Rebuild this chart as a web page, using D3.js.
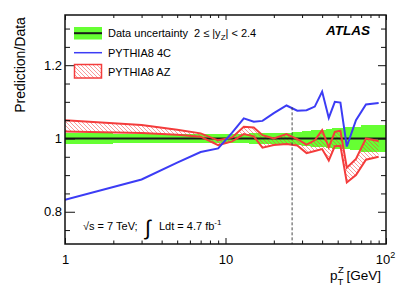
<!DOCTYPE html>
<html><head><meta charset="utf-8">
<script src="https://cdn.jsdelivr.net/npm/d3@7"></script>
<style>
body{margin:0;background:#fff;}
text{font-family:"Liberation Sans",Arial,sans-serif;}
</style></head>
<body><svg id="c" width="407" height="292"></svg>
<script>
// ---- data ----
const binEdges = [0,2,4,6,8,10,12,14,16,18,22,26,30,34,38,42,46,50,54,60,70,80,100];
const dataUnc  = [0.016,0.011,0.011,0.011,0.012,0.013,0.013,0.014,0.014,0.014,0.015,0.018,0.020,0.022,0.024,0.026,0.028,0.029,0.030,0.032,0.036,0.036];
const ptCenters = [1,3,5,7,9,11,13,15,17,20,24,28,32,36,40,44,48,52,57,65,75,90];
const pythia4C = [0.833,0.888,0.934,0.963,0.973,1.016,1.055,1.046,1.048,1.069,1.090,1.076,1.077,1.087,1.128,1.056,1.100,1.098,0.978,1.050,1.093,1.097];
const azUpper  = [1.050,1.037,1.024,1.014,0.995,1.003,1.032,1.030,1.009,1.000,1.012,0.998,0.983,0.995,1.023,0.976,1.018,1.021,0.920,0.944,1.000,0.993];
const azLower  = [1.019,1.015,1.010,1.005,0.982,0.992,1.012,1.006,0.975,0.982,0.985,0.981,0.960,0.966,0.971,0.940,0.979,0.980,0.880,0.900,0.942,0.950];
const yMajor = [0.8,1,1.2];
const yMinor = [0.75,0.85,0.9,0.95,1.05,1.1,1.15,1.25,1.3];
const xMajor = [1,10,100];
const xMinor = [2,3,4,5,6,7,8,9,20,30,40,50,60,70,80,90];
const cutPt = 26;

// ---- layout ----
const L=65,R=386,T=15,B=244;
const svg=d3.select("#c");
const x=d3.scaleLog().domain([1,100]).range([L,R]);
const y=d3.scaleLinear().domain([0.712,1.337]).range([B,T]);
const GREEN="#66ff33", BLUE="#3c3cf5", RED="#f43c3c";

const defs=svg.append("defs");
defs.append("clipPath").attr("id","clip").append("rect").attr("x",L).attr("y",T).attr("width",R-L).attr("height",B-T);
const pat=defs.append("pattern").attr("id","hatch").attr("patternUnits","userSpaceOnUse").attr("width",4).attr("height",4);
pat.append("path").attr("d","M-1,-1 L5,5 M-1,3 L1,5 M3,-1 L5,1").attr("stroke",RED).attr("stroke-width",0.8).attr("stroke-opacity",0.65);

const g=svg.append("g").attr("clip-path","url(#clip)");

// data uncertainty band (steps)
g.selectAll("rect.unc").data(dataUnc).enter().append("rect")
 .attr("x",(d,i)=>x(Math.max(binEdges[i],0.5)))
 .attr("width",(d,i)=>x(binEdges[i+1])-x(Math.max(binEdges[i],0.5)))
 .attr("y",d=>y(1+d)).attr("height",d=>y(1-d)-y(1+d))
 .attr("fill",GREEN).attr("shape-rendering","crispEdges");

// AZ band
const idx=d3.range(ptCenters.length);
g.append("path").datum(idx)
 .attr("d",d3.area().x(i=>x(ptCenters[i])).y0(i=>y(azLower[i])).y1(i=>y(azUpper[i])))
 .attr("fill","url(#hatch)");

// black line at 1
g.append("line").attr("x1",L).attr("x2",R).attr("y1",y(1)).attr("y2",y(1)).attr("stroke","#1a1a1a").attr("stroke-width",2);

const line=arr=>d3.line().x(i=>x(ptCenters[i])).y(i=>y(arr[i]));
g.append("path").datum(idx).attr("d",line(azUpper)).attr("fill","none").attr("stroke",RED).attr("stroke-width",2);
g.append("path").datum(idx).attr("d",line(azLower)).attr("fill","none").attr("stroke",RED).attr("stroke-width",2);
g.append("path").datum(idx).attr("d",line(pythia4C)).attr("fill","none").attr("stroke",BLUE).attr("stroke-width",2);

// dashed cut line
svg.append("line").attr("x1",x(cutPt)).attr("x2",x(cutPt)).attr("y1",y(1.085)).attr("y2",B)
 .attr("stroke","#333").attr("stroke-width",0.9).attr("stroke-dasharray","3,2");

// ---- axes ----
function style(sel){sel.select(".domain").remove();sel.selectAll("line").attr("stroke","#111").attr("stroke-width",1);
 sel.selectAll("text").attr("font-size",13).attr("fill","#000").attr("font-family","Liberation Sans, Arial, sans-serif");}
svg.append("g").attr("transform",`translate(${L},0)`).call(d3.axisLeft(y).tickValues(yMajor).tickSize(-10).tickPadding(3).tickFormat(d3.format("~g"))).call(style);
svg.append("g").attr("transform",`translate(${L},0)`).call(d3.axisLeft(y).tickValues(yMinor).tickSize(-5).tickFormat("")).call(style);
svg.append("g").attr("transform",`translate(${R},0)`).call(d3.axisRight(y).tickValues(yMajor).tickSize(-8).tickFormat("")).call(style);
svg.append("g").attr("transform",`translate(${R},0)`).call(d3.axisRight(y).tickValues(yMinor).tickSize(-5).tickFormat("")).call(style);
const xb=svg.append("g").attr("transform",`translate(0,${B})`).call(d3.axisBottom(x).tickValues(xMajor).tickSize(-6).tickPadding(11).tickFormat(d=>d===100?"":String(d))).call(style);
svg.append("g").attr("transform",`translate(0,${B})`).call(d3.axisBottom(x).tickValues(xMinor).tickSize(-3.5).tickFormat("")).call(style);
svg.append("g").attr("transform",`translate(0,${T})`).call(d3.axisTop(x).tickValues(xMajor).tickSize(-5).tickFormat("")).call(style);
svg.append("g").attr("transform",`translate(0,${T})`).call(d3.axisTop(x).tickValues(xMinor).tickSize(-3).tickFormat("")).call(style);
// 10^2 label
const t100=xb.selectAll(".tick").filter(d=>d===100).select("text");
t100.text("").attr("x",-1);
t100.append("tspan").text("10");
t100.append("tspan").text("2").attr("font-size",9).attr("dy",-6);

// frame
svg.append("rect").attr("x",L).attr("y",T).attr("width",R-L).attr("height",B-T).attr("fill","none").attr("stroke","#111").attr("stroke-width",1.5);

// axis titles
svg.append("text").attr("transform","translate(25,65) rotate(-90)").attr("text-anchor","middle").attr("font-size",14).text("Prediction/Data");
svg.append("text").attr("x",330).attr("y",280).attr("font-size",13.5).text("p");
svg.append("text").attr("x",338).attr("y",273).attr("font-size",9.5).text("Z");
svg.append("text").attr("x",337.5).attr("y",285).attr("font-size",9.5).text("T");
svg.append("text").attr("x",346.5).attr("y",280).attr("font-size",13.5).text("[GeV]");

// legend
svg.append("rect").attr("x",74).attr("y",27).attr("width",28).attr("height",12.5).attr("fill",GREEN);
svg.append("line").attr("x1",74).attr("x2",102).attr("y1",33.2).attr("y2",33.2).attr("stroke","#1a1a1a").attr("stroke-width",2);
svg.append("line").attr("x1",74).attr("x2",102).attr("y1",52.7).attr("y2",52.7).attr("stroke",BLUE).attr("stroke-width",1.5);
svg.append("rect").attr("x",74.5).attr("y",64.5).attr("width",27).attr("height",13.5).attr("fill","url(#hatch)").attr("stroke",RED).attr("stroke-width",1.5);
svg.append("text").attr("x",108).attr("y",36.8).attr("font-size",11).text("Data uncertainty");
const yz=svg.append("text").attr("x",194).attr("y",36.8).attr("font-size",11);
yz.append("tspan").text("2 ≤ |y");
yz.append("tspan").text("Z").attr("font-size",8).attr("dy",3);
yz.append("tspan").text("| < 2.4").attr("dy",-3);
svg.append("text").attr("x",108).attr("y",56.8).attr("font-size",11).text("PYTHIA8 4C");
svg.append("text").attr("x",108).attr("y",76.3).attr("font-size",11).text("PYTHIA8 AZ");

// ATLAS label
svg.append("text").attr("x",326).attr("y",34.5).attr("font-size",13.5).attr("font-weight","bold").attr("font-style","italic").text("ATLAS");

// energy / lumi
svg.append("text").attr("x",83).attr("y",229.5).attr("font-size",11).text("√s = 7 TeV;");
svg.append("text").attr("x",145).attr("y",235).attr("font-size",21).text("∫");
const lu=svg.append("text").attr("x",159).attr("y",229.5).attr("font-size",11);
lu.append("tspan").text("Ldt = 4.7 fb");
lu.append("tspan").text("-1").attr("font-size",8).attr("dy",-5);
</script></body></html>
